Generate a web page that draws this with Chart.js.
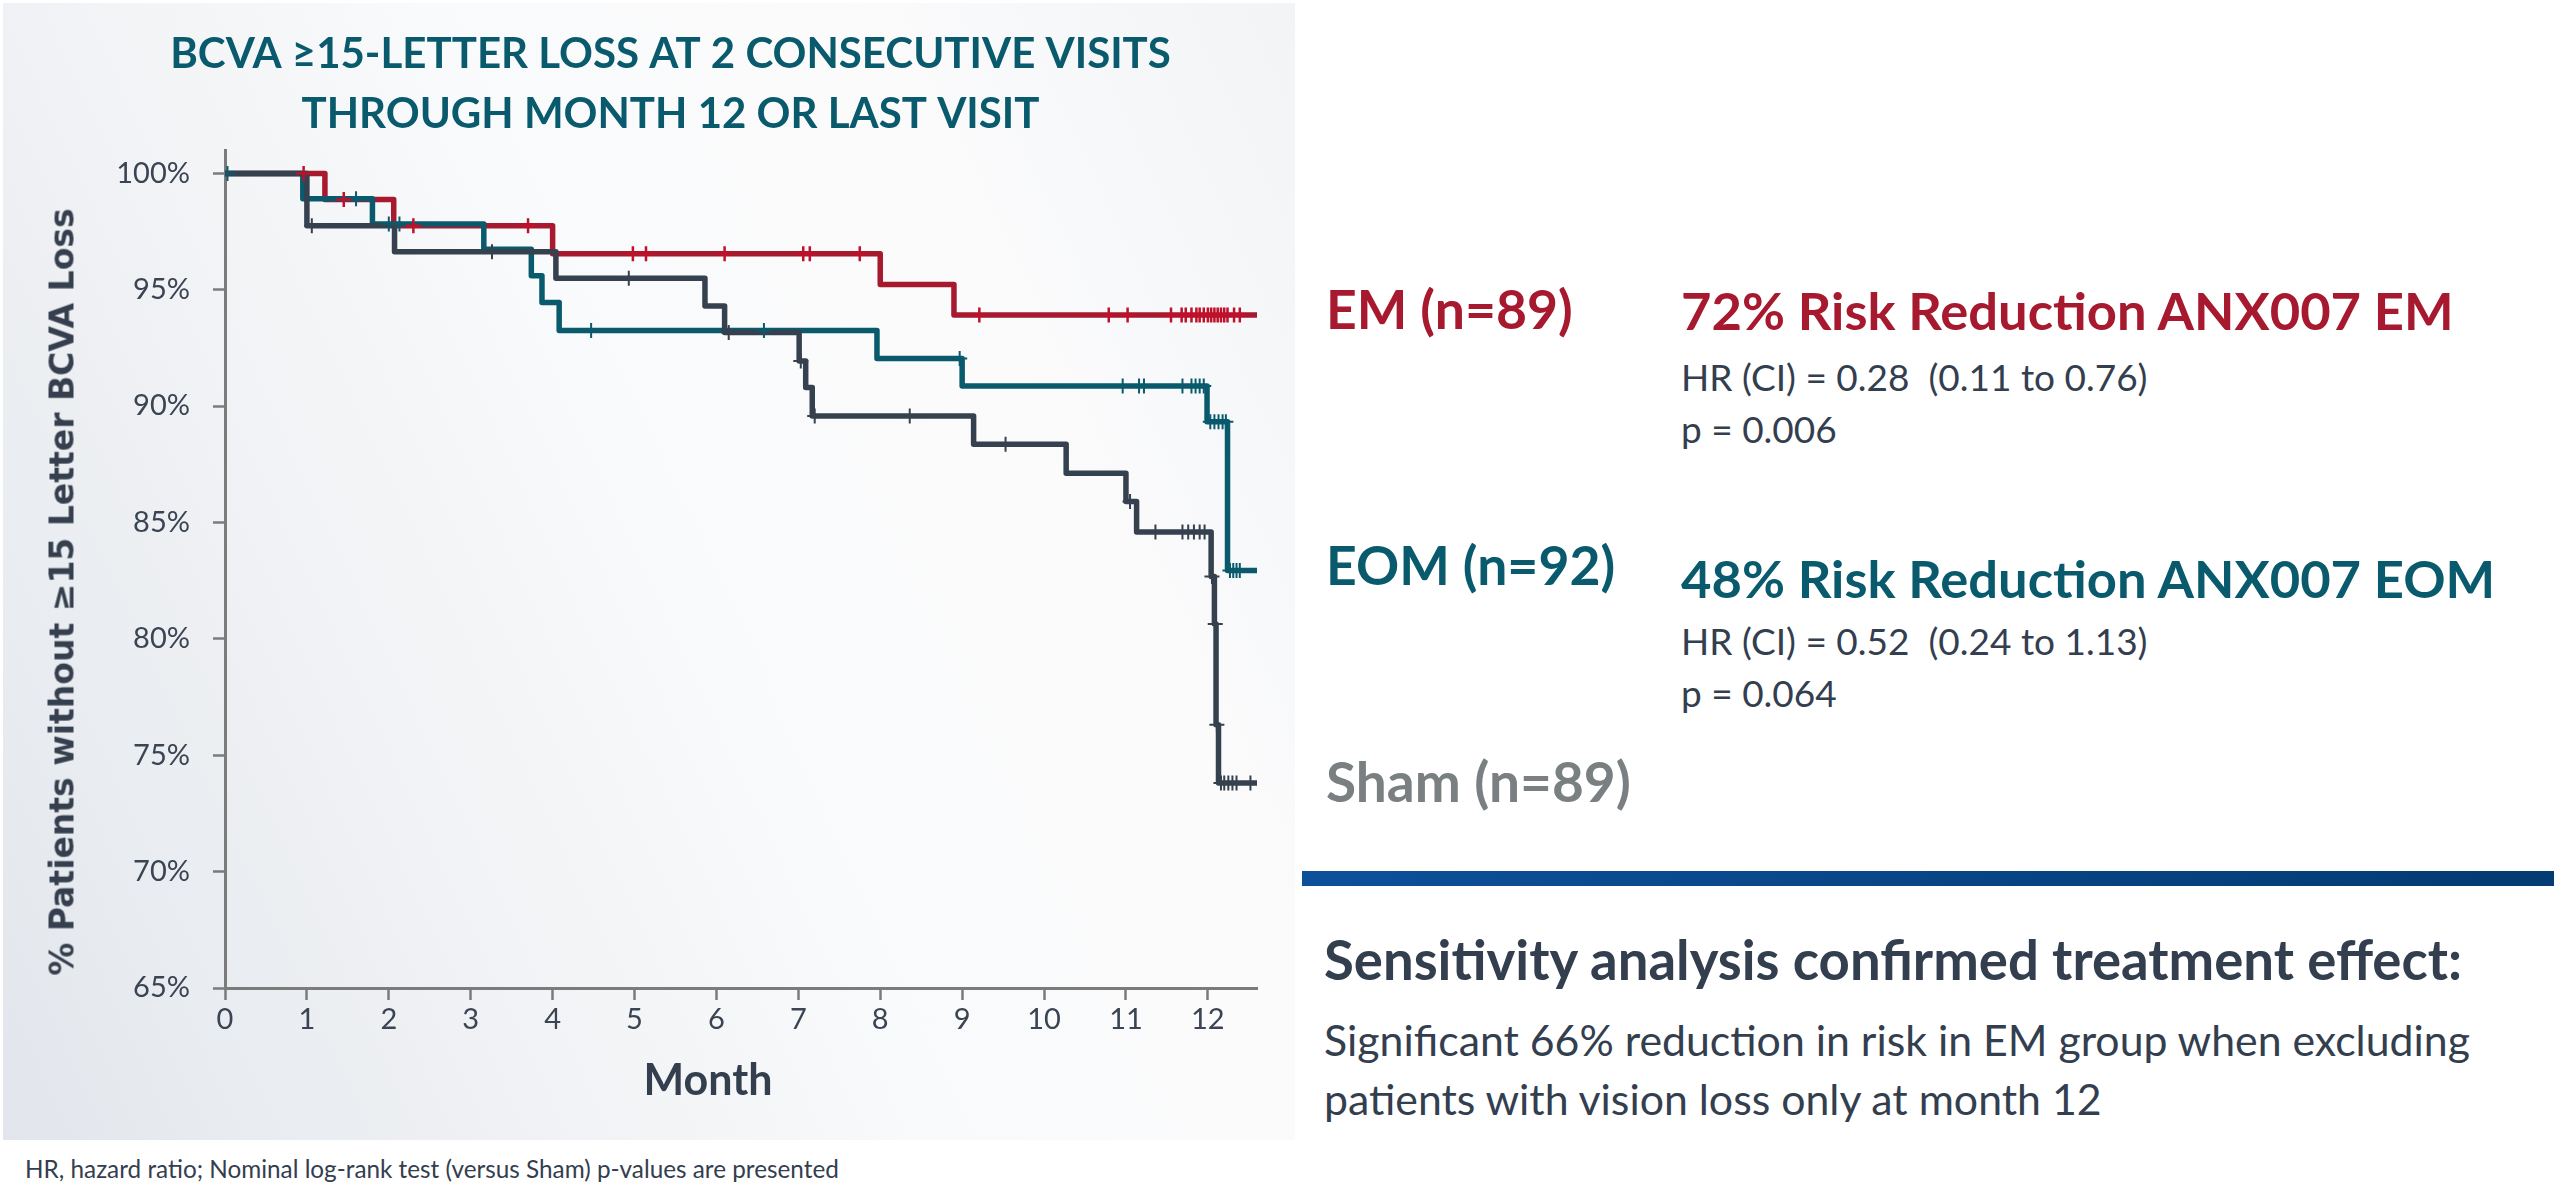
<!DOCTYPE html>
<html>
<head>
<meta charset="utf-8">
<script src="https://cdn.jsdelivr.net/npm/chart.js@4.4.1/dist/chart.umd.min.js"></script>
<style>
  html, body { margin: 0; padding: 0; background: #fff; }
  body { width: 2554px; height: 1196px; position: relative; overflow: hidden; font-family: Lato, sans-serif; }
  #panel { position: absolute; left: 3px; top: 3px; width: 1292px; height: 1137px;
    background: linear-gradient(65deg, #e2e6ec 0%, #eff1f4 28%, #f9fafb 52%, #fbfbfc 75%, #f2f4f6 100%); }
  #chartBox { position: absolute; left: 0; top: 0; width: 1295px; height: 1140px; }
  .t { position: absolute; white-space: nowrap; line-height: 1; }
  .red { color: #a6192e; }
  .teal { color: #0a5a6d; }
  .grey { color: #7a7f81; }
  .dark { color: #333e4f; }
  .lbl { font-weight: 700; font-size: 53.5px; }
  .head { font-weight: 700; font-size: 52.5px; }
  .body { font-size: 37px; }
  #ytitle { left: 62px; top: 592px; transform: translate(-50%, -50%) rotate(-90deg);
    font-family: "DejaVu Sans", sans-serif; font-weight: 700; font-size: 33px; color: #363f4e; }
  #xtitle { left: 708px; top: 1078px; transform: translate(-50%, -50%); font-weight: 700; font-size: 43px; color: #333e4f; }
  #bar { position: absolute; left: 1302px; top: 871px; width: 1252px; height: 15px;
    background: linear-gradient(90deg, #0d509a, #033b72); }
</style>
</head>
<body>
<div id="panel"></div>
<div id="chartBox"><canvas id="km"></canvas></div>
<div class="t" id="ytitle">% Patients without ≥15 Letter BCVA Loss</div>
<div class="t" id="xtitle">Month</div>

<div class="t lbl red" style="left:1326px; top:282px;">EM (n=89)</div>
<div class="t head red" style="left:1681px; top:284px;">72% Risk Reduction ANX007 EM</div>
<div class="t body dark" style="left:1681px; top:358px;">HR (CI) = 0.28&nbsp; (0.11 to 0.76)</div>
<div class="t body dark" style="left:1681px; top:410px;">p = 0.006</div>

<div class="t lbl teal" style="left:1326px; top:538px;">EOM (n=92)</div>
<div class="t head teal" style="left:1681px; top:552px;">48% Risk Reduction ANX007 EOM</div>
<div class="t body dark" style="left:1681px; top:622px;">HR (CI) = 0.52&nbsp; (0.24 to 1.13)</div>
<div class="t body dark" style="left:1681px; top:674px;">p = 0.064</div>

<div class="t lbl grey" style="left:1326px; top:754px; font-size:55px;">Sham (n=89)</div>

<div id="bar"></div>
<div class="t dark" style="left:1324px; top:932px; font-size:54.5px; font-weight:700;">Sensitivity analysis confirmed treatment effect:</div>
<div class="t dark" style="left:1324px; top:1019px; font-size:42.8px;">Significant 66% reduction in risk in EM group when excluding</div>
<div class="t dark" style="left:1324px; top:1078px; font-size:42.8px;">patients with vision loss only at month 12</div>

<div class="t dark" style="left:25px; top:1157px; font-size:24.3px;">HR, hazard ratio; Nominal log-rank test (versus Sham) p-values are presented</div>

<script>
// axis ticks
const xTicks = [0, 1, 2, 3, 4, 5, 6, 7, 8, 9, 10, 11, 12];
const yTicks = [65, 70, 75, 80, 85, 90, 95, 100];
const titleLines = ['BCVA ≥15-LETTER LOSS AT 2 CONSECUTIVE VISITS', 'THROUGH MONTH 12 OR LAST VISIT'];

// Kaplan-Meier steps: time of event (months) and % without loss after it
const emTime = [0, 1.22, 2.06, 4.0, 8.0, 8.9, 12.61];
const emSurv = [100, 98.88, 97.75, 96.55, 95.23, 93.92, 93.92];
const emCensor = [0.96, 1.45, 2.3, 3.7, 4.98, 5.14, 6.1, 7.06, 7.14, 7.75, 9.21, 10.79, 11.02, 11.55, 11.68, 11.73,
  11.8, 11.86, 11.9, 11.95, 12.0, 12.04, 12.08, 12.12, 12.16, 12.2, 12.24, 12.32, 12.39];

const eomTime = [0, 0.95, 1.8, 3.16, 3.74, 3.87, 4.08, 7.96, 9.0, 11.99, 12.24, 12.61];
const eomSurv = [100, 98.91, 97.83, 96.74, 95.6, 94.45, 93.25, 92.05, 90.87, 89.33, 82.94, 82.94];
const eomCensor = [0.03, 1.6, 2.0, 2.13, 4.47, 6.58, 8.97, 10.96, 11.16, 11.22, 11.69, 11.8, 11.85, 11.9, 11.95,
  12.03, 12.08, 12.13, 12.18, 12.22, 12.27, 12.31, 12.35, 12.39];

const shamTime = [0, 1.0, 2.07, 4.04, 5.86, 6.1, 7.01, 7.09, 7.17, 9.14, 10.27, 11.0, 11.13, 12.04, 12.08, 12.1, 12.13, 12.61];
const shamSurv = [100, 97.75, 96.63, 95.49, 94.3, 93.16, 91.94, 90.8, 89.58, 88.36, 87.12, 85.9, 84.59, 82.68, 80.64, 76.31, 73.81, 73.81];
const shamCensor = [1.06, 3.26, 4.93, 6.15, 7.03, 7.2, 8.36, 9.53, 11.05, 11.36, 11.69, 11.76, 11.83, 11.9, 11.96,
  12.05, 12.09, 12.11, 12.16, 12.2, 12.25, 12.3, 12.35, 12.52];

const RED = '#a6192e', TEAL = '#0a5a6d', DARK = '#36414f';

function steps(times, surv) {
  return times.map((t, i) => ({ x: t, y: surv[i] }));
}
// censor marks sit on the curve level at their time
function levelAt(times, surv, t) {
  let v = surv[0];
  for (let i = 0; i < times.length; i++) if (times[i] <= t) v = surv[i];
  return v;
}
function marks(censor, times, surv) {
  return censor.map(t => ({ x: t, y: levelAt(times, surv, t) }));
}

function lineSet(data, color, order) {
  return { data: data, borderColor: color, borderWidth: 5.5, stepped: true, pointRadius: 0,
    borderJoinStyle: 'round', borderCapStyle: 'round', fill: false, order: order };
}
function markSet(data, color, width) {
  return { data: data, showLine: false, pointStyle: 'cross', pointRadius: 7.5, pointBorderWidth: width,
    pointBorderColor: color, pointBackgroundColor: color, order: 0 };
}

const ctx = document.getElementById('km').getContext('2d');
let kmChart = new Chart(ctx, {
  type: 'line',
  data: {
    datasets: [
      lineSet(steps(emTime, emSurv), RED, 3),
      lineSet(steps(eomTime, eomSurv), TEAL, 2),
      lineSet(steps(shamTime, shamSurv), DARK, 1),
      markSet(marks(emCensor, emTime, emSurv), '#c0102a', 2.5),
      markSet(marks(eomCensor, eomTime, eomSurv), TEAL, 2),
      markSet(marks(shamCensor, shamTime, shamSurv), DARK, 2)
    ]
  },
  options: {
    responsive: true,
    maintainAspectRatio: false,
    animation: false,
    layout: { padding: { left: 84, right: 38, top: 0, bottom: 0 } },
    plugins: {
      legend: { display: false },
      tooltip: { enabled: false },
      title: {
        display: true,
        text: titleLines,
        color: TEAL,
        font: { family: 'Lato', weight: 'bold', size: 42, lineHeight: 1.43 },
        padding: { top: 24, bottom: 6 }
      }
    },
    scales: {
      x: {
        type: 'linear', min: 0, max: 12.6,
        afterBuildTicks: s => { s.ticks = xTicks.map(v => ({ value: v })); },
        afterFit: s => { s.height = 152; },
        border: { display: true, color: '#7b7b7b', width: 3 },
        grid: { display: true, drawOnChartArea: false, drawTicks: true, tickLength: 12, tickColor: '#7b7b7b', tickWidth: 2.5 },
        ticks: { color: '#3b4453', padding: 2, font: { family: 'Lato', size: 29 } }
      },
      y: {
        min: 65, max: 101,
        afterBuildTicks: s => { s.ticks = yTicks.map(v => ({ value: v })); },
        afterFit: s => { s.width = 141; },
        border: { display: true, color: '#7b7b7b', width: 3 },
        grid: { display: true, drawOnChartArea: false, drawTicks: true, tickLength: 12, tickColor: '#7b7b7b', tickWidth: 2.5 },
        ticks: { color: '#3b4453', padding: 23, font: { family: 'Lato', size: 29 }, callback: v => v + '%' }
      }
    }
  }
});
</script>
</body>
</html>
